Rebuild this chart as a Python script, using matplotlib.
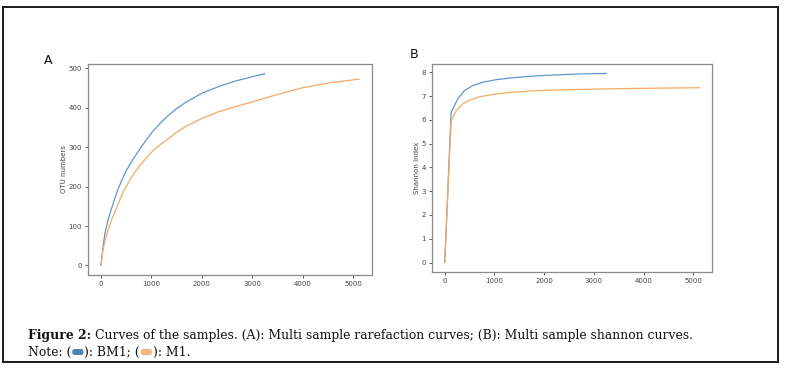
import matplotlib
matplotlib.use("Agg")
import matplotlib.pyplot as plt
from matplotlib.patches import Rectangle, FancyBboxPatch

# ---- data ----
a_bm1_x = [0, 40, 80, 130, 200, 270, 344, 420, 500, 590, 676, 800, 1007, 1200, 1339, 1500,
           1670, 2001, 2333, 2664, 3000, 3250]
a_bm1_y = [0, 45, 81, 110, 140, 168, 195, 218, 240, 260, 277, 301, 337, 364, 381, 398,
           413, 437, 454, 468, 479, 487]
a_m1_x = [0, 40, 80, 130, 200, 270, 344, 420, 500, 590, 676, 800, 1007, 1200, 1339, 1500,
          1670, 2001, 2333, 2664, 3000, 3500, 4000, 4500, 5120]
a_m1_y = [0, 38, 62, 85, 112, 133, 157, 180, 200, 220, 237, 258, 288, 309, 322, 338,
          352, 373, 390, 403, 415, 434, 451, 463, 473]

b_bm1_x = [0, 129, 262, 397, 565, 766, 1036, 1371, 1707, 2043, 2715, 3250]
b_bm1_y = [0, 6.32, 6.88, 7.23, 7.44, 7.58, 7.69, 7.77, 7.83, 7.87, 7.93, 7.95]
b_m1_x = [0, 129, 230, 363, 498, 700, 1036, 1371, 1707, 2043, 2715, 3500, 4200, 5120]
b_m1_y = [0, 5.96, 6.38, 6.67, 6.83, 6.97, 7.09, 7.16, 7.21, 7.24, 7.28, 7.31, 7.33, 7.35]

a_xticks = [0, 1000, 2000, 3000, 4000, 5000]
a_yticks = [0, 100, 200, 300, 400, 500]
b_xticks = [0, 1000, 2000, 3000, 4000, 5000]
b_yticks = [0, 1, 2, 3, 4, 5, 6, 7, 8]

caption_bold = "Figure 2: "
caption_rest = "Curves of the samples. (A): Multi sample rarefaction curves; (B): Multi sample shannon curves."

BLUE = "#5f97cc"
ORANGE = "#f7a862"
W, H = 786, 369

fig = plt.figure(figsize=(W / 100, H / 100), dpi=100)

def px_axes(l, r, t, b):
    return fig.add_axes([l / W, (H - b) / H, (r - l) / W, (b - t) / H])

def style(ax):
    for s in ax.spines.values():
        s.set_color("#8a8a8a")
        s.set_linewidth(0.9)
    ax.tick_params(labelsize=5, colors="#444444", length=2.5, width=0.6, pad=2)

axA = px_axes(88, 372, 64, 275)
axA.plot(a_bm1_x, a_bm1_y, color=BLUE, lw=0.9)
axA.plot(a_m1_x, a_m1_y, color=ORANGE, lw=0.9)
axA.set_xticks(a_xticks)
axA.set_yticks(a_yticks)
axA.set_ylabel("OTU numbers", fontsize=5, color="#444444", labelpad=1)
style(axA)

axB = px_axes(432, 712, 64, 272)
axB.plot(b_bm1_x, b_bm1_y, color=BLUE, lw=0.9)
axB.plot(b_m1_x, b_m1_y, color=ORANGE, lw=0.9)
axB.set_xticks(b_xticks)
axB.set_yticks(b_yticks)
axB.set_ylabel("Shannon index", fontsize=5, color="#444444", labelpad=1)
style(axB)

fig.text(48 / W, (H - 60) / H, "A", fontsize=9, ha="center", va="center", color="#111111")
fig.text(414 / W, (H - 54) / H, "B", fontsize=9, ha="center", va="center", color="#111111")

# outer border
fig.patches.append(Rectangle((3 / W, (H - 362) / H), 775 / W, 355 / H,
                             transform=fig.transFigure, fill=False,
                             edgecolor="#1a1a1a", linewidth=1.4))

# caption
renderer = fig.canvas.get_renderer()
FAM = "DejaVu Serif"

def measure(s, fs, bold=False):
    t = fig.text(0, 0, s, fontsize=fs, family=FAM, fontweight="bold" if bold else "normal")
    w = t.get_window_extent(renderer=renderer).width
    t.remove()
    return w

base = 8.0
wtot = measure(caption_bold, base, True) + measure(caption_rest, base)
FS = base * 671 / wtot

def put(x, y, s, bold=False):
    t = fig.text(x / W, (H - y) / H, s, fontsize=FS, family=FAM,
                 fontweight="bold" if bold else "normal", ha="left", va="center", color="#111111")
    bb = t.get_window_extent(renderer=renderer)
    return x + bb.width

x = put(28, 335, caption_bold, bold=True)
put(x, 335, caption_rest)

def swatch(x, y, color):
    fig.patches.append(FancyBboxPatch(((x + 1) / W, (H - y - 3) / H), 11 / W, 6 / H,
                                      boxstyle="round,pad=0,rounding_size=0.004",
                                      transform=fig.transFigure, facecolor=color,
                                      edgecolor="none"))
    return x + 13

x = put(28, 352, "Note: (")
x = swatch(x, 352, "#4f7fbf")
x = put(x, 352, "): BM1; (")
x = swatch(x, 352, "#fbb585")
put(x, 352, "): M1.")

fig.savefig("out.png", dpi=100)
